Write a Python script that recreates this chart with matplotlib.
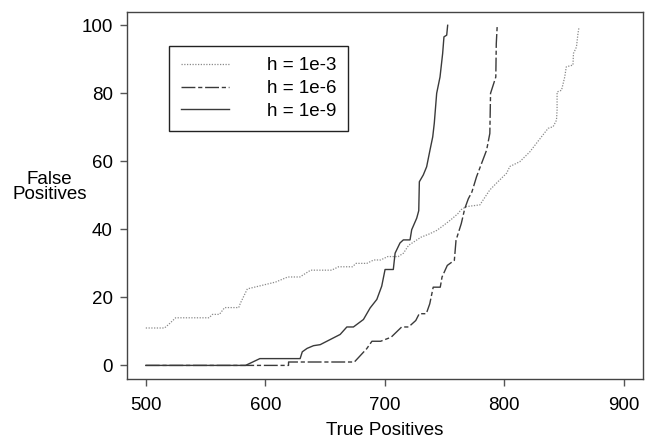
import matplotlib
matplotlib.use('Agg')
import matplotlib.pyplot as plt

plt.rcParams['font.family'] = ['Liberation Sans', 'DejaVu Sans']

# h = 1e-3 (dotted)
h3_x = [500, 515.6, 519, 525, 553, 555.8, 561.6, 566, 577.8, 579.2, 585, 591, 608.6, 618.9, 629,
        638, 655.5, 661.4, 673, 676, 685, 690.8, 696.6, 702.5, 711.3, 715.7, 720, 730.4, 737.7,
        743.6, 749.4, 755.3, 761.2, 764, 768.6, 779.7, 782.5, 788, 793.6, 802, 804.8, 813.1,
        821.5, 827, 831.2, 836.8, 841, 843.8, 844.3, 844.3, 848, 850.7, 852, 857.6, 858, 860.5,
        861.8, 862.7]
h3_y = [11, 11, 12, 14, 14, 15, 15, 17, 17, 18.3, 22.5, 23, 24.5, 26, 26, 28, 28, 29, 29, 30, 30,
        31, 31, 32, 32, 33, 35.3, 37.7, 38.7, 39.7, 41.2, 42.8, 44.6, 45.8, 46.7, 47.2, 48.7,
        51.6, 53.6, 56.5, 58.5, 59.9, 62.8, 65.3, 67.2, 69.7, 70.2, 72.1, 75.1, 80.4, 80.9, 84.8,
        87.8, 88.3, 91.7, 93.6, 97.6, 99.5]

# h = 1e-6 (dashed)
h6_x = [500, 619.5, 619.5, 674.6, 684.9, 689.3, 696.6, 705.4, 714.2, 720, 726, 728.9, 734.8,
        737.7, 740.6, 746.5, 748, 752.4, 758.3, 759.7, 764.1, 767, 770, 773, 776.9, 781.1, 785.3,
        788, 788.6, 790.8, 793, 793.4, 794.2]
h6_y = [0, 0, 1, 1, 4.9, 7.1, 7.1, 8.3, 11.3, 11.3, 13.2, 15.2, 15.2, 18.1, 23, 23, 26, 29.4,
        30.9, 36.8, 41.7, 46.1, 49, 51, 55.5, 59.4, 63.3, 68.2, 80, 82.4, 84.8, 94.6, 100]

# h = 1e-9 (solid)
h9_x = [500, 583.5, 595.5, 629.2, 631, 635, 640.4, 646, 662.7, 668.3, 673.8, 682.2, 687.8, 693.4,
        697.5, 700.3, 707.2, 708.7, 712.8, 715.6, 721.2, 722.6, 726.8, 728.5, 729, 732.3, 735.1,
        737.9, 740.2, 741.5, 743.5, 746.3, 748.5, 749.6, 751.9, 752.7]
h9_y = [0, 0, 2, 2, 4, 5, 5.8, 6.1, 9.1, 11.3, 11.3, 13.5, 16.9, 19.4, 23.3, 28.2, 28.2, 33, 36,
        36.9, 36.9, 39.9, 43.3, 45.5, 54, 56, 58.4, 63.3, 67.2, 71.2, 80, 84.8, 91.7, 96.6, 97.1,
        100]

labels = ['h = 1e-3', 'h = 1e-6', 'h = 1e-9']
x_ticks = [500, 600, 700, 800, 900]
y_ticks = [0, 20, 40, 60, 80, 100]

fig = plt.figure(figsize=(6.51, 4.46), dpi=100)
ax = fig.add_axes([0.1946, 0.1502, 0.7927, 0.8236])

ax.plot(h3_x, h3_y, color='#8a8a8a', lw=0.9, linestyle=(0, (1, 1.2)), label=labels[0])
ax.plot(h6_x, h6_y, color='#3a3a3a', lw=1.0, linestyle=(0, (10, 2, 3, 2)), label=labels[1])
ax.plot(h9_x, h9_y, color='#3a3a3a', lw=1.0, linestyle='-', label=labels[2])

ax.set_xlim(484, 916)
ax.set_ylim(-4, 104)
ax.set_xticks(x_ticks)
ax.set_yticks(y_ticks)
ax.tick_params(axis='x', length=5, width=1, pad=8, labelsize=13.5, color='#555555')
ax.tick_params(axis='y', length=5, width=1, pad=5, labelsize=13.5, color='#555555')
for s in ax.spines.values():
    s.set_color('#444444')
    s.set_linewidth(1.0)

ax.set_xlabel('True Positives', fontsize=13.5, labelpad=6)
ax.set_ylabel('False\nPositives', fontsize=13.5, rotation=0, ha='center', va='center',
              linespacing=0.9)
ax.yaxis.set_label_coords(-0.149, 0.523)

leg = ax.legend(loc='upper left', bbox_to_anchor=(0.0826, 0.9066), borderaxespad=0,
                fontsize=13.5, handlelength=2.6, handletextpad=2.0, borderpad=0.6,
                labelspacing=0.3, fancybox=False, framealpha=1)
leg.get_frame().set_edgecolor('#222222')
leg.get_frame().set_linewidth(1.0)

fig.savefig('out.png', dpi=100)
